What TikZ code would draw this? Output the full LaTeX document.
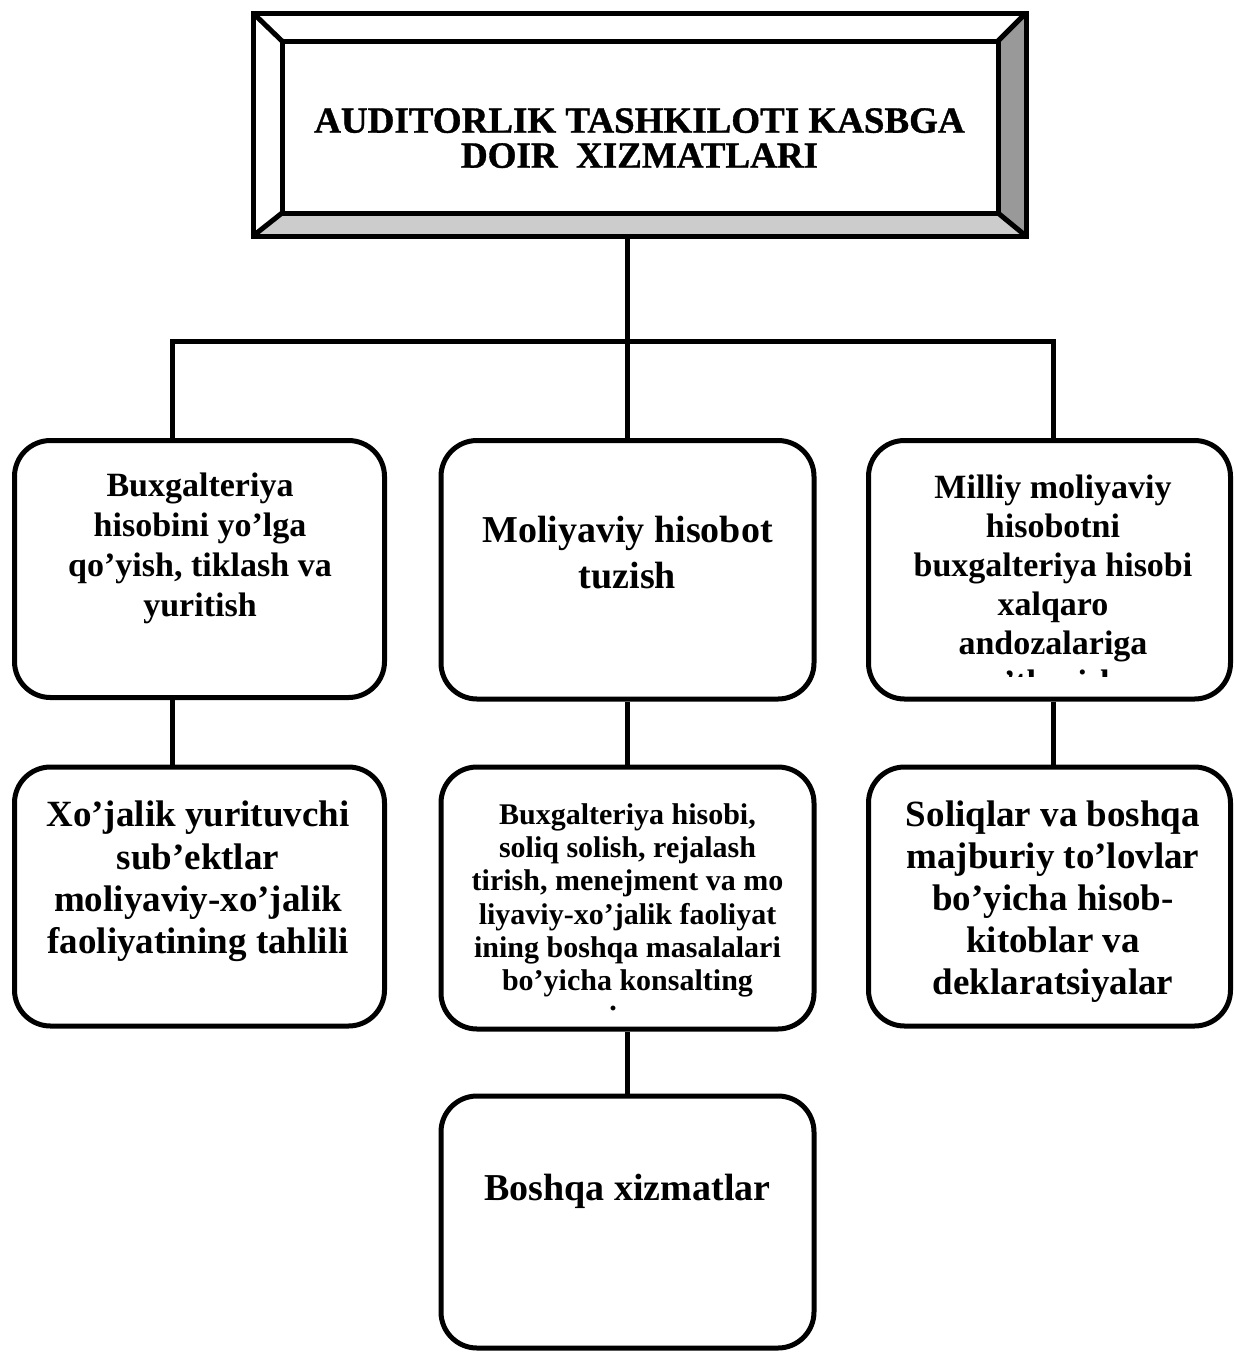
\documentclass[tikz,border=0pt]{standalone}
\usepackage{fontspec}
\setmainfont{Liberation Serif}
\newfontfamily\titlefont[FakeBold=1]{Liberation Serif}
\begin{document}
\begin{tikzpicture}[x=1pt,y=-1pt,
  box/.style={draw, line width=5pt, rounded corners=36pt, inner sep=0pt},
  conn/.style={line width=5pt},
  bev/.style={line width=5pt},
  txt/.style={align=center, inner sep=0pt, anchor=north},
  fA/.style={font=\titlefont\bfseries\fontsize{37pt}{35pt}\selectfont},
  fB/.style={font=\bfseries\fontsize{34pt}{40pt}\selectfont},
  fC/.style={font=\bfseries\fontsize{38pt}{46pt}\selectfont},
  fD/.style={font=\bfseries\fontsize{34pt}{39pt}\selectfont},
  fE/.style={font=\bfseries\fontsize{37pt}{42.3pt}\selectfont},
  fF/.style={font=\bfseries\fontsize{30pt}{33.2pt}\selectfont},
  fG/.style={font=\bfseries\fontsize{37pt}{41.8pt}\selectfont},
]
\useasboundingbox (0,0) rectangle (1234,1353);

% ---- title (bevelled frame) ----
\node[inner sep=0pt, outer sep=0pt, minimum width=773pt, minimum height=223pt] (Tout) at (639.5,124.5) {};
\node[inner sep=0pt, outer sep=0pt, minimum width=716pt, minimum height=172pt] (Tin) at (640,127) {};
\fill[black!20] (Tout.south west) -- (Tout.south east) -- (Tin.south east) -- (Tin.south west) -- cycle;
\fill[black!40] (Tout.north east) -- (Tout.south east) -- (Tin.south east) -- (Tin.north east) -- cycle;
\draw[bev] (Tout.north west) rectangle (Tout.south east);
\draw[bev] (Tin.north west) rectangle (Tin.south east);
\draw[bev] (Tout.north west) -- (Tin.north west);
\draw[bev] (Tout.north east) -- (Tin.north east);
\draw[bev] (Tout.south west) -- (Tin.south west);
\draw[bev] (Tout.south east) -- (Tin.south east);
\node[txt, fA] (Ttxt) at (639.5,108) {AUDITORLIK TASHKILOTI KASBGA\\DOIR\ \ XIZMATLARI};

% ---- boxes ----
\node[box, minimum width=370pt, minimum height=257pt] (L1) at (199.5,569) {};
\node[box, minimum width=373pt, minimum height=258.5pt] (M1) at (627.5,569.75) {};
\node[box, minimum width=362pt, minimum height=258.5pt] (R1) at (1049.5,569.75) {};
\node[box, minimum width=370pt, minimum height=259pt] (L2) at (199.5,896.5) {};
\node[box, minimum width=373pt, minimum height=262pt] (M2) at (627.5,898) {};
\node[box, minimum width=362pt, minimum height=259pt] (R2) at (1049.5,896.5) {};
\node[box, minimum width=373pt, minimum height=252pt] (M3) at (627.5,1222) {};

% ---- texts ----
\node[txt, fB] (L1txt) at (200,473) {Buxgalteriya\\hisobini yo’lga\\qo’yish, tiklash va\\yuritish};
\node[txt, fC] (M1txt) at (627.5,516) {Moliyaviy hisobot\\tuzish};
\begin{scope}
  \clip (860,445) rectangle (1234,676);
  \node[txt, fD] (R1txt) at (1053,475) {Milliy moliyaviy\\hisobotni\\buxgalteriya hisobi\\xalqaro\\andozalariga\\o’tkazish};
\end{scope}
\node[txt, fE] (L2txt) at (198,801) {Xo’jalik yurituvchi\\sub’ektlar\\moliyaviy-xo’jalik\\faoliyatining tahlili};
\node[txt, fF] (M2txt) at (627.5,803.5) {Buxgalteriya hisobi,\\soliq solish, rejalash\\tirish, menejment va mo\\liyaviy-xo’jalik faoliyat\\ining boshqa masalalari\\bo’yicha konsalting};
\node[fF, inner sep=0pt, anchor=base] (M2dot) at (613,1010) {.};
\node[txt, fG] (R2txt) at (1053,801) {Soliqlar va boshqa\\majburiy to’lovlar\\bo’yicha hisob-\\kitoblar va\\deklaratsiyalar};
\node[txt, fC] (M3txt) at (627.5,1174) {Boshqa xizmatlar};

% ---- connectors ----
\coordinate (bus) at (627.5,341);
\draw[conn] (M1.north |- Tout.south) -- (M1.north);
\draw[conn] ([xshift=-27.5pt]L1.north) -- ([xshift=-27.5pt]L1.north |- bus) -- ([xshift=3.5pt]R1.north |- bus) -- ([xshift=3.5pt]R1.north);
\draw[conn] ([xshift=-27.5pt]L1.south) -- ([xshift=-27.5pt]L2.north);
\draw[conn] (M1.south) -- (M2.north);
\draw[conn] ([xshift=3.5pt]R1.south) -- ([xshift=3.5pt]R2.north);
\draw[conn] (M2.south) -- (M3.north);
\end{tikzpicture}
\end{document}
